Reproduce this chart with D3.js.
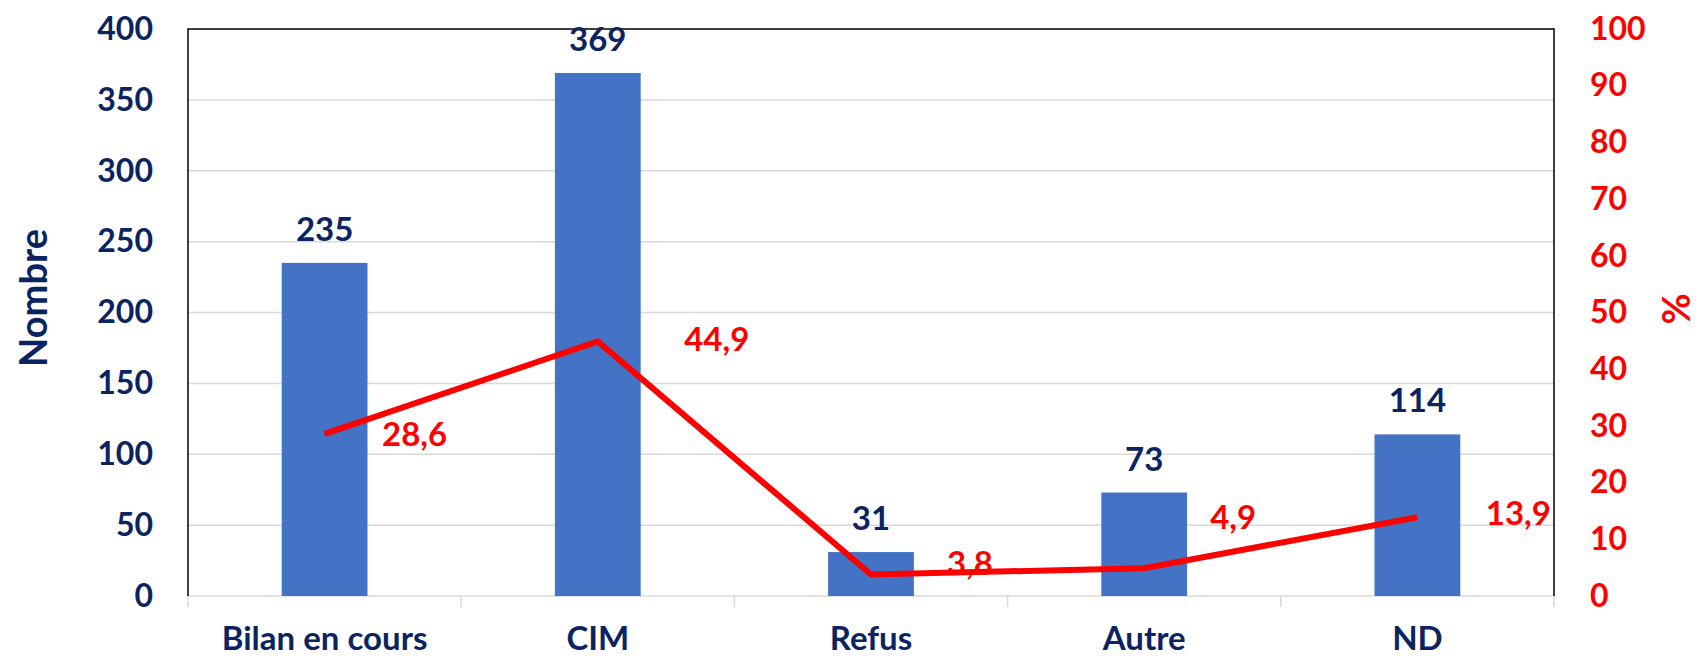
<!DOCTYPE html>
<html>
<head>
<meta charset="utf-8">
<script src="https://cdn.jsdelivr.net/npm/d3@7"></script>
<style>
  body { margin: 0; background: #fff; }
  text { font-family: Lato, "Open Sans", sans-serif; font-weight: bold; }
</style>
</head>
<body>
<div id="chart"></div>
<script>
// data
const categories = ['Bilan en cours', 'CIM', 'Refus', 'Autre', 'ND']
const counts = [235, 369, 31, 73, 114]
const percents = [28.6, 44.9, 3.8, 4.9, 13.9]
const countTicks = [0, 50, 100, 150, 200, 250, 300, 350, 400]
const percentTicks = [0, 10, 20, 30, 40, 50, 60, 70, 80, 90, 100]

// label nudges for the % labels (px, relative to the line point)
const pctLabelDx = [90, 119, 99, 89, 101]
const pctLabelDy = [0, -2, -11, -51, -4]

const margin = { top: 29, left: 188, right: 147, bottom: 62 }
const width = 1701 - margin.left - margin.right
const height = 658 - margin.top - margin.bottom

const navy = '#0b2461'
const red = '#ff0000'
const blue = '#4472c4'
const grid = '#d9d9d9'

const svg = d3
  .select('#chart')
  .append('svg')
  .attr('width', width + margin.left + margin.right)
  .attr('height', height + margin.top + margin.bottom)

const g = svg
  .append('g')
  .attr('transform', `translate(${margin.left},${margin.top})`)

// scales
const xPositionScale = d3
  .scaleBand()
  .domain(categories)
  .range([0, width])
  .paddingInner(0.686)
  .paddingOuter(0.343)

const xBand = d3.scaleBand().domain(categories).range([0, width])

const yPositionScale = d3.scaleLinear().domain([0, 400]).range([height, 0])
const yPctScale = d3.scaleLinear().domain([0, 100]).range([height, 0])

// gridlines
g.append('g')
  .selectAll('line')
  .data(countTicks.slice(1, -1))
  .enter()
  .append('line')
  .attr('x1', 0)
  .attr('x2', width)
  .attr('y1', d => yPositionScale(d))
  .attr('y2', d => yPositionScale(d))
  .attr('stroke', grid)
  .attr('stroke-width', 1.5)

// bottom axis line + category separators
g.append('line')
  .attr('x1', 0)
  .attr('x2', width)
  .attr('y1', height)
  .attr('y2', height)
  .attr('stroke', grid)
  .attr('stroke-width', 1.5)

g.append('g')
  .selectAll('line')
  .data(categories.map((d, i) => i).concat([categories.length]))
  .enter()
  .append('line')
  .attr('x1', i => (i < categories.length ? xBand(categories[i]) : width))
  .attr('x2', i => (i < categories.length ? xBand(categories[i]) : width))
  .attr('y1', height)
  .attr('y2', height + 11)
  .attr('stroke', grid)
  .attr('stroke-width', 1.5)

// frame: left, top, right in black
g.append('path')
  .attr('d', `M0,${height}V0H${width}V${height}`)
  .attr('fill', 'none')
  .attr('stroke', '#000')
  .attr('stroke-width', 1.5)

// bars
g.selectAll('.bar')
  .data(counts)
  .enter()
  .append('rect')
  .attr('class', 'bar')
  .attr('x', (d, i) => xPositionScale(categories[i]))
  .attr('width', xPositionScale.bandwidth())
  .attr('y', d => yPositionScale(d))
  .attr('height', d => height - yPositionScale(d))
  .attr('fill', blue)

// bar labels
g.selectAll('.bar-label')
  .data(counts)
  .enter()
  .append('text')
  .attr('class', 'bar-label')
  .attr('x', (d, i) => xPositionScale(categories[i]) + xPositionScale.bandwidth() / 2)
  .attr('y', d => yPositionScale(d) - 22)
  .attr('text-anchor', 'middle')
  .attr('font-size', 33)
  .attr('fill', navy)
  .text(d => d)

// line
const cx = i => xBand(categories[i]) + xBand.bandwidth() / 2
const line = d3
  .line()
  .x((d, i) => cx(i))
  .y(d => yPctScale(d))

g.append('path')
  .datum(percents)
  .attr('d', line)
  .attr('fill', 'none')
  .attr('stroke', red)
  .attr('stroke-width', 6)
  .attr('stroke-linejoin', 'miter')

// % labels
g.selectAll('.pct-label')
  .data(percents)
  .enter()
  .append('text')
  .attr('class', 'pct-label')
  .attr('x', (d, i) => cx(i) + pctLabelDx[i])
  .attr('y', (d, i) => yPctScale(d) + pctLabelDy[i])
  .attr('dy', '0.36em')
  .attr('text-anchor', 'middle')
  .attr('font-size', 33)
  .attr('fill', red)
  .text(d => d3.format('.1f')(d).replace('.', ','))

// left axis
const leftAxis = d3.axisLeft(yPositionScale).tickValues(countTicks).tickSize(0).tickPadding(35)
g.append('g')
  .attr('class', 'axis')
  .call(leftAxis)
  .call(s => s.select('.domain').remove())
  .selectAll('text')
  .attr('font-size', 32)
  .attr('fill', navy)

// right axis
const rightAxis = d3.axisRight(yPctScale).tickValues(percentTicks).tickSize(0).tickPadding(36)
g.append('g')
  .attr('transform', `translate(${width},0)`)
  .call(rightAxis)
  .call(s => s.select('.domain').remove())
  .selectAll('text')
  .attr('font-size', 32)
  .attr('fill', red)

// bottom axis
const bottomAxis = d3.axisBottom(xBand).tickSize(0).tickPadding(31)
g.append('g')
  .attr('transform', `translate(0,${height})`)
  .call(bottomAxis)
  .call(s => s.select('.domain').remove())
  .selectAll('text')
  .attr('font-size', 33)
  .attr('fill', navy)

svg.selectAll('.tick text').style('font-family', 'Lato, "Open Sans", sans-serif').style('font-weight', 'bold')

// axis titles
svg.append('text')
  .attr('transform', 'translate(47,298) rotate(-90)')
  .attr('text-anchor', 'middle')
  .attr('font-size', 38)
  .attr('fill', navy)
  .text('Nombre')

svg.append('text')
  .attr('transform', 'translate(1690,309) rotate(-90)')
  .attr('text-anchor', 'middle')
  .attr('font-size', 38)
  .attr('fill', red)
  .text('%')
</script>
</body>
</html>
